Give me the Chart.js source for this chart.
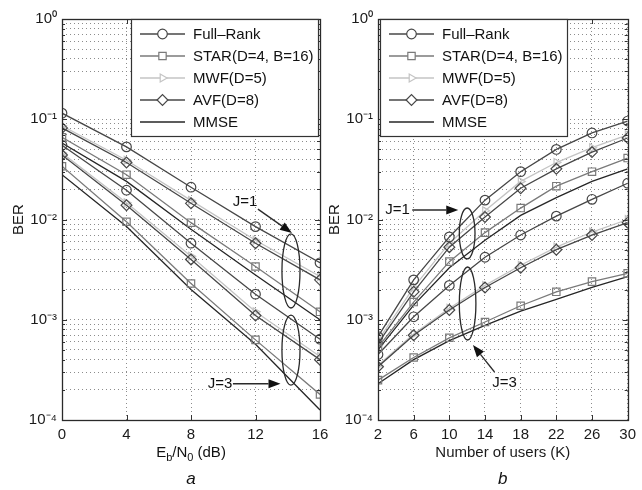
<!DOCTYPE html>
<html>
<head>
<meta charset="utf-8">
<script src="https://cdn.jsdelivr.net/npm/chart.js@4/dist/chart.umd.min.js"></script>
<style>
html,body{margin:0;padding:0;background:#fff;}
#wrap{position:relative;width:642px;height:490px;overflow:hidden;background:#fff;}
canvas{position:absolute;top:0;}
</style>
</head>
<body>
<div id="wrap">
<canvas id="chartA" width="345" height="490" style="left:0px"></canvas>
<canvas id="chartB" width="320" height="490" style="left:322px"></canvas>
</div>
<script>
// ---------- data ----------
const methods = ['Full\u2013Rank', 'STAR(D=4, B=16)', 'MWF(D=5)', 'AVF(D=8)', 'MMSE'];
const snrDb = [0, 4, 8, 12, 16];
const users = [2, 6, 10, 14, 18, 22, 26, 30];

// panel a : BER vs Eb/N0
const aFullJ1 = [0.115, 0.053, 0.021, 0.0085, 0.0037];
const aStarJ1 = [0.066, 0.028, 0.0093, 0.0034, 0.0012];
const aMwfJ1  = [0.086, 0.039, 0.0155, 0.0062, 0.0027];
const aAvfJ1  = [0.082, 0.037, 0.0145, 0.0058, 0.0025];
const aMmseJ1 = [0.058, 0.024, 0.0080, 0.0028, 0.0010];
const aFullJ3 = [0.055, 0.0196, 0.0058, 0.0018, 0.00064];
const aStarJ3 = [0.034, 0.0095, 0.0023, 0.00063, 0.00018];
const aMwfJ3  = [0.046, 0.0147, 0.0043, 0.0012, 0.00043];
const aAvfJ3  = [0.044, 0.0139, 0.0040, 0.0011, 0.00040];
const aMmseJ3 = [0.028, 0.0085, 0.0020, 0.00057, 0.000126];

// panel b : BER vs number of users
const bFullJ1 = [0.00068, 0.0025, 0.0067, 0.0156, 0.030, 0.050, 0.073, 0.096];
const bStarJ1 = [0.00053, 0.0015, 0.0038, 0.0074, 0.0130, 0.0215, 0.030, 0.041];
const bMwfJ1  = [0.00062, 0.0021, 0.0058, 0.0122, 0.024, 0.037, 0.052, 0.070];
const bAvfJ1  = [0.00058, 0.0019, 0.0053, 0.0106, 0.0205, 0.032, 0.047, 0.065];
const bMmseJ1 = [0.00050, 0.0014, 0.0033, 0.0062, 0.011, 0.0165, 0.024, 0.032];
const bFullJ3 = [0.00045, 0.00107, 0.0022, 0.0042, 0.0070, 0.0108, 0.0159, 0.023];
const bStarJ3 = [0.00025, 0.00042, 0.00066, 0.00095, 0.00138, 0.0019, 0.0024, 0.0029];
const bMwfJ3  = [0.00035, 0.00072, 0.0013, 0.0022, 0.0035, 0.0053, 0.0075, 0.0100];
const bAvfJ3  = [0.00034, 0.00070, 0.00125, 0.0021, 0.0033, 0.0050, 0.0070, 0.0093];
const bMmseJ3 = [0.00023, 0.00040, 0.00062, 0.00088, 0.00122, 0.0016, 0.0021, 0.0027];

// y axis ticks
const yDecades = [1e-4, 1e-3, 1e-2, 1e-1, 1];
const yDecadeLabels = ['10\u207B\u2074', '10\u207B\u00B3', '10\u207B\u00B2', '10\u207B\u00B9', '10\u2070'];
const yMinorMultipliers = [2, 3, 4, 5, 6, 7, 8, 9];

// annotations (data coordinates)
const aNotes = {
  ellipses: [{x: 14.2, top: 7.2e-3, bottom: 1.31e-3, halfWidth: 0.56},
             {x: 14.2, top: 1.11e-3, bottom: 2.23e-4, halfWidth: 0.56}],
  arrows: [{from: [12.15, 0.0127], to: [14.26, 0.00733]},
           {from: [10.6, 2.3e-4], to: [13.55, 2.3e-4]}],
  texts: [{text: 'J=1', x: 11.35, y: 0.0150},
          {text: 'J=3', x: 9.8, y: 2.3e-4}]
};
const bNotes = {
  ellipses: [{x: 12.0, top: 0.01303, bottom: 0.00404, halfWidth: 0.88},
             {x: 12.05, top: 0.00336, bottom: 0.000628, halfWidth: 0.93}],
  arrows: [{from: [5.84, 0.01244], to: [11.0, 0.01244]},
           {from: [15.07, 0.000301], to: [12.65, 0.00056]}],
  texts: [{text: 'J=1', x: 4.2, y: 0.01244},
          {text: 'J=3', x: 16.2, y: 0.000234}]
};

// ---------- styles ----------
const FONT = "'Liberation Sans', Arial, Helvetica, sans-serif";
const STYLE = [
  {color: '#474747', point: 'circle',  radius: 4.8, rot: 0,  order: 0},
  {color: '#7a7a7a', point: 'rect',    radius: 5.2, rot: 0,  order: 0},
  {color: '#c4c4c4', point: 'triangle',radius: 4.6, rot: 90, order: 2},
  {color: '#474747', point: 'rectRot', radius: 5.4, rot: 0,  order: 0},
  {color: '#262626', point: null,      radius: 0,   rot: 0,  order: 1}
];

const yTickValues = [];
yDecades.forEach((d, i) => {
  yTickValues.push(d);
  if (i < yDecades.length - 1) yMinorMultipliers.forEach(m => yTickValues.push(m * d));
});

function buildDatasets(xs, groups) {
  const ds = [];
  groups.forEach((series, g) => {
    series.forEach((vals, i) => {
      const st = STYLE[i];
      ds.push({
        label: methods[i] + (g === 0 ? ' (J=1)' : ' (J=3)'),
        data: xs.map((x, k) => ({x: x, y: vals[k]})),
        borderColor: st.color,
        backgroundColor: 'rgba(0,0,0,0)',
        borderWidth: 1.3,
        pointStyle: st.point || 'circle',
        pointRadius: st.point ? st.radius : 0,
        pointHoverRadius: st.point ? st.radius : 0,
        pointRotation: st.rot,
        pointBorderColor: st.color,
        pointBackgroundColor: 'rgba(0,0,0,0)',
        pointBorderWidth: 1.2,
        tension: 0,
        fill: false,
        order: st.order
      });
    });
  });
  return ds;
}

function drawMarker(ctx, style, x, y, r) {
  ctx.beginPath();
  if (style === 'circle') {
    ctx.arc(x, y, r, 0, Math.PI * 2);
  } else if (style === 'rect') {
    const s = r * Math.SQRT1_2;
    ctx.rect(x - s, y - s, 2 * s, 2 * s);
  } else if (style === 'rectRot') {
    ctx.moveTo(x - r, y); ctx.lineTo(x, y - r); ctx.lineTo(x + r, y); ctx.lineTo(x, y + r); ctx.closePath();
  } else if (style === 'triangle') {
    ctx.moveTo(x + r, y); ctx.lineTo(x - r / 2, y - r * Math.sqrt(3) / 2); ctx.lineTo(x - r / 2, y + r * Math.sqrt(3) / 2); ctx.closePath();
  }
  ctx.fill();
  ctx.stroke();
}

const framePlugin = {
  id: 'frame',
  afterDatasetsDraw(chart) {
    const {ctx, chartArea: a, scales} = chart;
    ctx.save();
    ctx.strokeStyle = '#333';
    ctx.lineWidth = 1;
    ctx.beginPath();
    scales.x.ticks.forEach(t => {
      const px = Math.round(scales.x.getPixelForValue(t.value)) + 0.5;
      ctx.moveTo(px, a.bottom); ctx.lineTo(px, a.bottom - 5);
      ctx.moveTo(px, a.top); ctx.lineTo(px, a.top + 5);
    });
    scales.y.ticks.forEach(t => {
      const py = Math.round(scales.y.getPixelForValue(t.value)) + 0.5;
      const major = yDecades.some(d => Math.abs(d - t.value) / d < 1e-6);
      const len = major ? 5 : 3;
      ctx.moveTo(a.left, py); ctx.lineTo(a.left + len, py);
      ctx.moveTo(a.right, py); ctx.lineTo(a.right - len, py);
    });
    ctx.stroke();
    ctx.lineWidth = 1.3;
    ctx.strokeStyle = '#2a2a2a';
    ctx.strokeRect(Math.round(a.left) + 0.5, Math.round(a.top) + 0.5,
                   Math.round(a.right - a.left), Math.round(a.bottom - a.top));
    ctx.restore();
  }
};

function makeLegendPlugin(side) {
  return {
    id: 'boxLegend',
    afterDatasetsDraw(chart) {
      const {ctx, chartArea: a} = chart;
      ctx.save();
      ctx.font = '15px ' + FONT;
      const tw = Math.max.apply(null, methods.map(m => ctx.measureText(m).width));
      const w = Math.round(9 + 45 + 8 + tw + 4);
      const h = 117;
      const left = side === 'right' ? Math.round(a.right - w - 2) : Math.round(a.left + 2);
      const top = Math.round(a.top);
      ctx.fillStyle = '#fff';
      ctx.fillRect(left, top, w, h);
      ctx.strokeStyle = '#333';
      ctx.lineWidth = 1.2;
      ctx.strokeRect(left + 0.5, top + 0.5, w, h);
      methods.forEach((m, i) => {
        const st = STYLE[i];
        const y = top + 15 + i * 22;
        ctx.strokeStyle = st.color;
        ctx.lineWidth = 1.3;
        ctx.beginPath(); ctx.moveTo(left + 9, y); ctx.lineTo(left + 54, y); ctx.stroke();
        if (st.point) {
          ctx.fillStyle = '#fff';
          ctx.lineWidth = 1.2;
          drawMarker(ctx, st.point, left + 31.5, y, st.radius);
        }
        ctx.fillStyle = '#111';
        ctx.textBaseline = 'middle';
        ctx.textAlign = 'left';
        ctx.fillText(m, left + 62, y + 1);
      });
      ctx.restore();
    }
  };
}

function makeNotesPlugin(notes, xTitleParts, panelLetter) {
  return {
    id: 'notes',
    afterDatasetsDraw(chart) {
      const {ctx, chartArea: a} = chart;
      const sx = chart.scales.x, sy = chart.scales.y;
      ctx.save();
      ctx.strokeStyle = '#2a2a2a';
      ctx.fillStyle = '#111';
      ctx.lineWidth = 1.3;
      notes.ellipses.forEach(e => {
        const cx = sx.getPixelForValue(e.x);
        const yt = sy.getPixelForValue(e.top), yb = sy.getPixelForValue(e.bottom);
        const rx = Math.abs(sx.getPixelForValue(e.x + e.halfWidth) - cx);
        ctx.beginPath();
        ctx.ellipse(cx, (yt + yb) / 2, rx, Math.abs(yb - yt) / 2, 0, 0, Math.PI * 2);
        ctx.stroke();
      });
      notes.arrows.forEach(ar => {
        const x1 = sx.getPixelForValue(ar.from[0]), y1 = sy.getPixelForValue(ar.from[1]);
        const x2 = sx.getPixelForValue(ar.to[0]), y2 = sy.getPixelForValue(ar.to[1]);
        const ang = Math.atan2(y2 - y1, x2 - x1);
        const L = 12, W = 4.5;
        const bx = x2 - L * Math.cos(ang), by = y2 - L * Math.sin(ang);
        ctx.beginPath(); ctx.moveTo(x1, y1); ctx.lineTo(bx, by); ctx.stroke();
        ctx.beginPath();
        ctx.moveTo(x2, y2);
        ctx.lineTo(bx + W * Math.sin(ang), by - W * Math.cos(ang));
        ctx.lineTo(bx - W * Math.sin(ang), by + W * Math.cos(ang));
        ctx.closePath();
        ctx.fill();
      });
      ctx.font = '15px ' + FONT;
      ctx.textAlign = 'center';
      ctx.textBaseline = 'middle';
      notes.texts.forEach(t => {
        ctx.fillText(t.text, sx.getPixelForValue(t.x), sy.getPixelForValue(t.y));
      });
      if (xTitleParts) {
        const cx = (a.left + a.right) / 2, cy = a.bottom + 33;
        const widths = xTitleParts.map(p => {
          ctx.font = (p.sub ? '11px ' : '15px ') + FONT;
          return ctx.measureText(p.t).width;
        });
        const total = widths.reduce((s, v) => s + v, 0);
        let x = cx - total / 2;
        ctx.textAlign = 'left';
        xTitleParts.forEach((p, i) => {
          ctx.font = (p.sub ? '11px ' : '15px ') + FONT;
          ctx.fillText(p.t, x, p.sub ? cy + 5 : cy);
          x += widths[i];
        });
      }
      ctx.textAlign = 'center';
      ctx.font = 'italic 17px ' + FONT;
      ctx.fillText(panelLetter, (a.left + a.right) / 2, a.bottom + 59);
      ctx.restore();
    }
  };
}

function makeChart(canvasId, xs, groups, opt) {
  return new Chart(document.getElementById(canvasId), {
    type: 'line',
    data: {datasets: buildDatasets(xs, groups)},
    options: {
      responsive: false,
      animation: false,
      devicePixelRatio: 1,
      events: [],
      layout: {padding: {left: 0, right: opt.padRight, top: 19, bottom: 0}},
      plugins: {legend: {display: false}, tooltip: {enabled: false}},
      scales: {
        x: {
          type: 'linear',
          min: xs[0],
          max: xs[xs.length - 1],
          afterBuildTicks: s => { s.ticks = xs.map(v => ({value: v})); },
          afterFit: s => { s.height = 70; },
          grid: {color: '#8c8c8c', lineWidth: 1, drawTicks: false},
          border: {display: false, dash: [1, 3]},
          ticks: {font: {family: FONT, size: 15}, color: '#1a1a1a', padding: 6, autoSkip: false, maxRotation: 0},
          title: opt.xTitle ? {display: true, text: opt.xTitle, font: {family: FONT, size: 15}, color: '#1a1a1a', padding: {top: 0, bottom: 28}} : {display: false}
        },
        y: {
          type: 'logarithmic',
          min: 1e-4,
          max: 1,
          afterBuildTicks: s => { s.ticks = yTickValues.map(v => ({value: v})); },
          afterFit: s => { s.width = opt.yWidth; },
          grid: {color: '#8c8c8c', lineWidth: 1, drawTicks: false},
          border: {display: false, dash: [1, 3]},
          ticks: {
            font: {family: FONT, size: 15},
            color: '#1a1a1a',
            padding: 5,
            autoSkip: false,
            callback: v => {
              const idx = yDecades.findIndex(d => Math.abs(d - v) / d < 1e-6);
              return idx >= 0 ? yDecadeLabels[idx] : '';
            }
          },
          title: {display: true, text: 'BER', font: {family: FONT, size: 15}, color: '#1a1a1a', padding: {top: opt.yTitlePad, bottom: 0}}
        }
      }
    },
    plugins: [framePlugin, makeLegendPlugin(opt.legendSide), makeNotesPlugin(opt.notes, opt.xTitleParts, opt.letter)]
  });
}

makeChart('chartA', snrDb,
  [[aFullJ1, aStarJ1, aMwfJ1, aAvfJ1, aMmseJ1], [aFullJ3, aStarJ3, aMwfJ3, aAvfJ3, aMmseJ3]],
  {padRight: 25, yWidth: 62, yTitlePad: 10, legendSide: 'right', notes: aNotes,
   xTitle: null,
   xTitleParts: [{t: 'E'}, {t: 'b', sub: true}, {t: '/N'}, {t: '0', sub: true}, {t: ' (dB)'}],
   letter: 'a'});

makeChart('chartB', users,
  [[bFullJ1, bStarJ1, bMwfJ1, bAvfJ1, bMmseJ1], [bFullJ3, bStarJ3, bMwfJ3, bAvfJ3, bMmseJ3]],
  {padRight: 9, yWidth: 56, yTitlePad: 4, legendSide: 'left', notes: bNotes,
   xTitle: 'Number of users (K)', xTitleParts: null, letter: 'b'});
</script>
</body>
</html>
